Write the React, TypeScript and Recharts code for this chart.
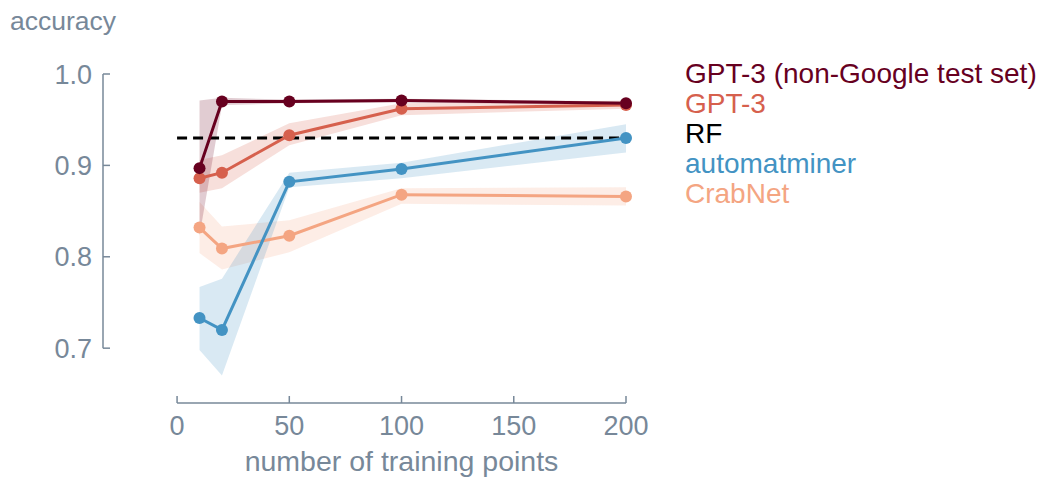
import React from 'react';
import { ComposedChart, Line, Area, XAxis, YAxis, ReferenceLine, Legend, Label } from 'recharts';

const trainPoints = [10, 20, 50, 100, 200];

const gpt3NonGoogle = [0.897, 0.970, 0.970, 0.971, 0.968];
const gpt3NonGoogleLow = [0.823, 0.966, 0.968, 0.969, 0.966];
const gpt3NonGoogleHigh = [0.971, 0.974, 0.972, 0.973, 0.970];

const gpt3 = [0.886, 0.892, 0.933, 0.962, 0.966];
const gpt3Low = [0.870, 0.875, 0.922, 0.955, 0.962];
const gpt3High = [0.906, 0.911, 0.946, 0.968, 0.971];

const automatminer = [0.733, 0.720, 0.882, 0.896, 0.930];
const automatminerLow = [0.698, 0.670, 0.876, 0.886, 0.914];
const automatminerHigh = [0.767, 0.776, 0.892, 0.903, 0.945];

const crabnet = [0.832, 0.809, 0.823, 0.868, 0.866];
const crabnetLow = [0.804, 0.786, 0.805, 0.858, 0.856];
const crabnetHigh = [0.860, 0.833, 0.840, 0.875, 0.876];

const rfX = [0, 200];
const rfValue = [0.93, 0.93];

const xTicks = [0, 50, 100, 150, 200];
const yTicks = [0.7, 0.8, 0.9, 1.0];

const legendNames = ['GPT-3 (non-Google test set)', 'GPT-3', 'RF', 'automatminer', 'CrabNet'];
const legendColors = ['#67001f', '#d6604d', '#000000', '#4393c3', '#f4a582'];

const AXIS = '#778899';
const FONT = '"Liberation Sans", Arial, sans-serif';

const makeSeries = (mean: number[], low: number[], high: number[]) =>
  trainPoints.map((x, i) => ({ x, mean: mean[i], band: [low[i], high[i]] }));

const nonGoogleData = makeSeries(gpt3NonGoogle, gpt3NonGoogleLow, gpt3NonGoogleHigh);
const gpt3Data = makeSeries(gpt3, gpt3Low, gpt3High);
const automatminerData = makeSeries(automatminer, automatminerLow, automatminerHigh);
const crabnetData = makeSeries(crabnet, crabnetLow, crabnetHigh);
const rfData = rfX.map((x, i) => ({ x, mean: rfValue[i] }));

const YTick = (props: any) => {
  const { x, y, payload } = props;
  return (
    <g>
      <line x1={x} x2={x + 7} y1={y} y2={y} stroke={AXIS} strokeWidth={1.5} />
      <text x={x - 11} y={y + 9.5} textAnchor="end" fontSize={27} fill={AXIS} fontFamily={FONT}>
        {Number(payload.value).toFixed(1)}
      </text>
    </g>
  );
};

const XTick = (props: any) => {
  const { x, y, payload } = props;
  return (
    <g>
      <line x1={x} x2={x} y1={y} y2={y - 7} stroke={AXIS} strokeWidth={1.5} />
      <text x={x} y={y + 32} textAnchor="middle" fontSize={27} fill={AXIS} fontFamily={FONT}>
        {payload.value}
      </text>
    </g>
  );
};

const LegendContent = () => (
  <div style={{ fontFamily: FONT, fontSize: 28, lineHeight: '30px', whiteSpace: 'nowrap' }}>
    {legendNames.map((n, i) => (
      <div key={n} style={{ color: legendColors[i] }}>{n}</div>
    ))}
  </div>
);

const series = [
  { data: crabnetData, color: legendColors[4], name: 'CrabNet' },
  { data: automatminerData, color: legendColors[3], name: 'automatminer' },
  { data: gpt3Data, color: legendColors[1], name: 'GPT-3' },
  { data: nonGoogleData, color: legendColors[0], name: 'nonGoogle' },
];

export default function App() {
  return (
    <div style={{ position: 'absolute', left: 0, top: 0, width: 1041, height: 479, background: '#fff' }}>
      <ComposedChart width={1041} height={479} margin={{ top: 74, right: 415, bottom: 0, left: 0 }}>
        <XAxis
          dataKey="x"
          type="number"
          domain={[-33, 200]}
          ticks={xTicks}
          interval={0}
          axisLine={false}
          tickLine={false}
          tickSize={0}
          tickMargin={0}
          height={76}
          tick={<XTick />}
          allowDuplicatedCategory={false}
        >
          <Label
            content={() => (
              <text x={401.5} y={471} textAnchor="middle" fontSize={28.5} fill={AXIS} fontFamily={FONT}>
                number of training points
              </text>
            )}
          />
        </XAxis>
        <YAxis
          type="number"
          domain={[0.64, 1.0]}
          ticks={yTicks}
          interval={0}
          axisLine={false}
          tickLine={false}
          tickSize={0}
          tickMargin={0}
          width={103}
          tick={<YTick />}
        >
          <Label
            content={() => (
              <text x={10} y={30} textAnchor="start" fontSize={26.5} fill={AXIS} fontFamily={FONT}>
                accuracy
              </text>
            )}
          />
        </YAxis>
        <ReferenceLine
          segment={[{ x: 0, y: 0.64 }, { x: 200, y: 0.64 }]}
          stroke={AXIS}
          strokeWidth={1.5}
          ifOverflow="visible"
        />
        <ReferenceLine
          segment={[{ x: -33, y: 0.7 }, { x: -33, y: 1.0 }]}
          stroke={AXIS}
          strokeWidth={1.5}
          ifOverflow="visible"
        />
        {series.map((s) => (
          <Area
            key={'a' + s.name}
            data={s.data}
            dataKey="band"
            type="linear"
            stroke="none"
            fill={s.color}
            fillOpacity={0.2}
            isAnimationActive={false}
            activeDot={false}
          />
        ))}
        <Line
          data={rfData}
          dataKey="mean"
          type="linear"
          stroke="#000"
          strokeWidth={3}
          strokeDasharray="10 6"
          dot={false}
          activeDot={false}
          isAnimationActive={false}
        />
        {series.map((s) => (
          <Line
            key={'l' + s.name}
            data={s.data}
            dataKey="mean"
            type="linear"
            stroke={s.color}
            strokeWidth={3}
            dot={{ r: 6, fill: s.color, stroke: 'none' }}
            activeDot={false}
            isAnimationActive={false}
          />
        ))}
        <Legend
          layout="vertical"
          align="center"
          verticalAlign="middle"
          content={<LegendContent />}
          wrapperStyle={{ position: 'absolute', left: 685, top: 59, width: 356 }}
        />
      </ComposedChart>
    </div>
  );
}
